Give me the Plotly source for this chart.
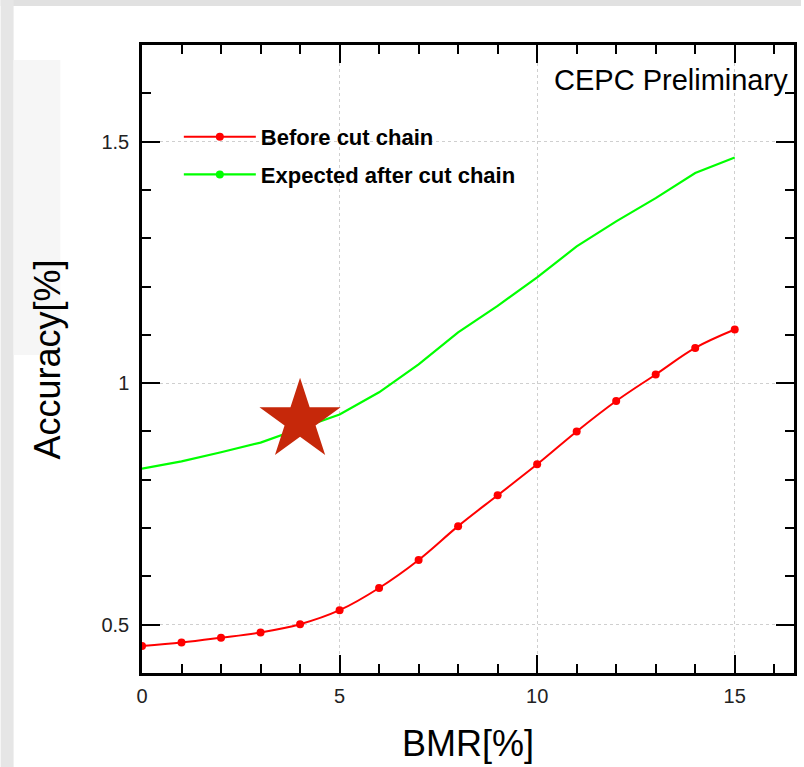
import plotly.graph_objects as go

# ---- data ----
bmr = [0, 1, 2, 3, 4, 5, 6, 7, 8, 9, 10, 11, 12, 13, 14, 15]
before_cut = [0.456, 0.463, 0.473, 0.484, 0.501, 0.530, 0.576, 0.634, 0.704,
              0.768, 0.832, 0.900, 0.963, 1.018, 1.073, 1.111]
after_cut = [0.823, 0.838, 0.857, 0.877, 0.906, 0.935, 0.981, 1.039, 1.105,
             1.160, 1.219, 1.283, 1.335, 1.383, 1.435, 1.467]
star_x = [4]
star_y = [0.923]
y_tickvals = [0.5, 1, 1.5]
y_ticktext = ["0.5", "1", "1.5"]
x_tickvals = [0, 5, 10, 15]
x_ticktext = ["0", "5", "10", "15"]

W, H = 804, 767
L, R, T, B = 142, 7, 45, 94
PW, PH = W - L - R, H - T - B


def px(xp):
    return (xp - L) / PW


def py(yp):
    return (H - B - yp) / PH


FONT = "Liberation Sans, Arial, Helvetica, sans-serif"

fig = go.Figure()
fig.add_trace(go.Scatter(
    x=bmr, y=before_cut, name="Before cut chain", mode="lines+markers",
    line=dict(color="#ff0000", width=2, shape="spline"),
    marker=dict(color="#ff0000", size=8), legendgroup="a"))
fig.add_trace(go.Scatter(
    x=bmr, y=after_cut, name="Expected after cut chain", mode="lines+markers",
    line=dict(color="#00ff00", width=2.2),
    marker=dict(color="#00ff00", size=8), legendgroup="b",
    selectedpoints=[], unselected=dict(marker=dict(opacity=0))))
fig.add_trace(go.Scatter(
    x=star_x, y=star_y, mode="markers", showlegend=False,
    marker=dict(symbol="star", size=61, color="rgb(198,40,10)",
                line=dict(width=0))))

axis_common = dict(
    ticks="inside", ticklen=18, tickwidth=2, tickcolor="black",
    showline=True, linewidth=2.5, linecolor="black", mirror="allticks",
    showgrid=True, gridcolor="#cfcfcf", griddash="dot", gridwidth=1,
    zeroline=False, tickfont=dict(family=FONT, size=20, color="#222"),
)

fig.update_xaxes(range=[0, 16.5], tickvals=x_tickvals, ticktext=x_ticktext,
                 minor=dict(dtick=1, tick0=0, ticks="inside", ticklen=9,
                            tickwidth=2, tickcolor="black", showgrid=False),
                 ticklabelstandoff=3, **axis_common)
fig.update_yaxes(range=[0.4, 1.7], tickvals=y_tickvals, ticktext=y_ticktext,
                 minor=dict(dtick=0.1, tick0=0, ticks="inside", ticklen=9,
                            tickwidth=2, tickcolor="black", showgrid=False),
                 ticklabelstandoff=6, **axis_common)

shapes = [
    dict(type="rect", xref="paper", yref="paper", layer="below",
         x0=px(0), x1=px(W), y0=py(6), y1=py(0),
         fillcolor="#e1e1e1", line=dict(width=0)),
    dict(type="rect", xref="paper", yref="paper", layer="below",
         x0=px(0), x1=px(13), y0=py(H), y1=py(0),
         fillcolor="#e6e6e6", line=dict(width=0)),
    dict(type="rect", xref="paper", yref="paper", layer="below",
         x0=px(13), x1=px(60), y0=py(355), y1=py(60),
         fillcolor="#f6f6f6", line=dict(width=0)),
]

annotations = [
    dict(text="CEPC Preliminary", xref="paper", yref="paper",
         x=px(793), y=py(80), xanchor="right", yanchor="middle",
         showarrow=False, font=dict(family=FONT, size=29, color="black")),
    dict(text="BMR[%]", xref="paper", yref="paper",
         x=0.5, y=py(743), xanchor="center", yanchor="middle",
         showarrow=False, font=dict(family=FONT, size=36, color="black")),
    dict(text="Accuracy[%]", xref="paper", yref="paper", textangle=-90,
         x=px(47), y=0.5, xanchor="center", yanchor="middle",
         showarrow=False, font=dict(family=FONT, size=36, color="black")),
]

fig.update_layout(
    width=W, height=H,
    margin=dict(l=L, r=R, t=T, b=B, pad=0),
    paper_bgcolor="white", plot_bgcolor="white",
    shapes=shapes, annotations=annotations,
    showlegend=True,
    legend=dict(x=px(179), y=py(116), xanchor="left", yanchor="top",
                bgcolor="rgba(0,0,0,0)", traceorder="grouped",
                tracegroupgap=6, itemwidth=72,
                font=dict(family=FONT, size=22, color="black", weight="bold")),
)

fig.write_html("out.html")
